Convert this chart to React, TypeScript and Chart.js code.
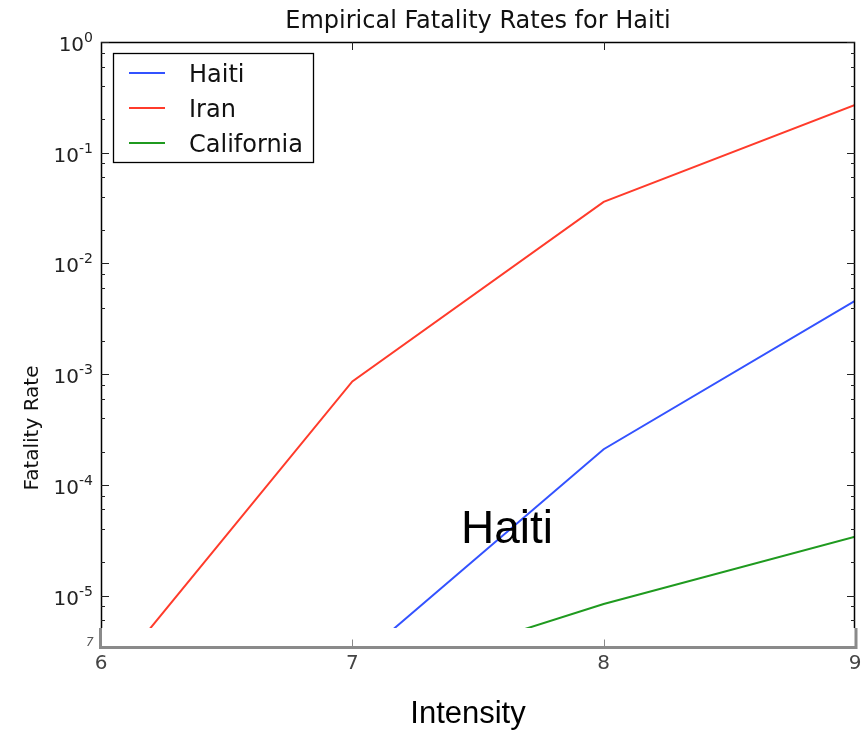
import React, { useEffect, useRef } from "react";
import { Chart, registerables } from "chart.js";

Chart.register(...registerables);

// Shaking intensity (MMI) and empirical fatality rate per region
const intensity = [6, 7, 8, 9];
const haitiRate = [null, 2.4e-6, 2.1e-4, 4.6e-3];
const iranRate = [1.45e-6, 8.6e-4, 0.036, 0.27];
const californiaRate = [null, 1.6e-6, 8.4e-6, 3.4e-5];

const seriesNames = ["Haiti", "Iran", "California"];
const seriesColors = ["#3352ff", "#ff3b2b", "#1f9a1f"];

const xTickLabels = ["6", "7", "8", "9"];
const yDecades = [0, -1, -2, -3, -4, -5];
const yMinorSubs = [2, 4, 6, 8];
const yRange = [5.1e-6, 1];

const titleText = "Empirical Fatality Rates for Haiti";
const yAxisTitle = "Fatality Rate";
const xAxisTitle = "Intensity";
const regionTag = "Haiti";
const strayLabel = "7";

const SANS = "'DejaVu Sans', sans-serif";
const ARIAL = "'Liberation Sans', Arial, sans-serif";

const toPoints = (vals: (number | null)[]) =>
  intensity
    .map((x, i) => ({ x, y: vals[i] }))
    .filter((p) => p.y !== null) as { x: number; y: number }[];

const decorations = {
  id: "decorations",
  afterDatasetsDraw(chart: any) {
    const { ctx, chartArea, scales } = chart;
    const { left, right, top, bottom } = chartArea;
    const xs = scales.x;
    const ys = scales.y;
    ctx.save();

    // frame: left, top, right spines
    ctx.strokeStyle = "#000";
    ctx.lineWidth = 1.5;
    ctx.beginPath();
    ctx.moveTo(left + 0.5, bottom);
    ctx.lineTo(left + 0.5, top + 0.5);
    ctx.lineTo(right - 0.5, top + 0.5);
    ctx.lineTo(right - 0.5, bottom);
    ctx.stroke();

    // y ticks (inward, both sides)
    ctx.lineWidth = 1;
    ctx.strokeStyle = "#222";
    for (let e = 0; e >= -6; e--) {
      const values = [1, ...yMinorSubs].map((m) => m * Math.pow(10, e));
      values.forEach((v, k) => {
        if (v < yRange[0] || v > yRange[1]) return;
        const py = Math.round(ys.getPixelForValue(v)) + 0.5;
        const len = k === 0 ? 8 : 4;
        ctx.beginPath();
        ctx.moveTo(left, py);
        ctx.lineTo(left + len, py);
        ctx.moveTo(right, py);
        ctx.lineTo(right - len, py);
        ctx.stroke();
      });
    }

    // top x ticks
    intensity.forEach((v) => {
      const px = Math.round(xs.getPixelForValue(v)) + 0.5;
      if (px <= left + 1 || px >= right - 1) return;
      ctx.beginPath();
      ctx.moveTo(px, top);
      ctx.lineTo(px, top + 8);
      ctx.stroke();
    });

    // grey lower axis
    const axisY = 647.5;
    ctx.strokeStyle = "#8a8a8a";
    ctx.lineWidth = 3;
    ctx.beginPath();
    ctx.moveTo(left - 0.5, bottom);
    ctx.lineTo(left - 0.5, axisY);
    ctx.lineTo(right + 1, axisY);
    ctx.lineTo(right + 1, bottom);
    ctx.stroke();
    ctx.lineWidth = 1;
    intensity.forEach((v) => {
      const px = Math.round(xs.getPixelForValue(v)) + 0.5;
      if (px <= left + 1 || px >= right - 1) return;
      ctx.beginPath();
      ctx.moveTo(px, axisY - 1);
      ctx.lineTo(px, axisY - 8);
      ctx.stroke();
    });

    // x tick labels
    ctx.fillStyle = "#444";
    ctx.font = `20px ${SANS}`;
    ctx.textAlign = "center";
    ctx.textBaseline = "alphabetic";
    intensity.forEach((v, i) => {
      ctx.fillText(xTickLabels[i], xs.getPixelForValue(v), 669);
    });

    // y tick labels 10^k
    ctx.fillStyle = "#222";
    yDecades.forEach((e) => {
      const py = ys.getPixelForValue(Math.pow(10, e));
      const expText = e < 0 ? "-" + String(-e) : String(e);
      ctx.font = `14px ${SANS}`;
      ctx.textAlign = "right";
      const expW = ctx.measureText(expText).width;
      ctx.fillText(expText, 93, py);
      ctx.font = `20px ${SANS}`;
      ctx.fillText("10", 93 - expW, py + 9);
    });

    // stray fragment below the y axis
    ctx.fillStyle = "#555";
    ctx.font = `italic 12px ${SANS}`;
    ctx.textAlign = "left";
    ctx.fillText(strayLabel, 86, 646);

    // title
    ctx.fillStyle = "#111";
    ctx.font = `24px ${SANS}`;
    ctx.textAlign = "center";
    ctx.fillText(titleText, (left + right) / 2, 28);

    // y axis title
    ctx.save();
    ctx.translate(38, 428);
    ctx.rotate(-Math.PI / 2);
    ctx.font = `20px ${SANS}`;
    ctx.textAlign = "center";
    ctx.fillText(yAxisTitle, 0, 0);
    ctx.restore();

    // x axis title
    ctx.fillStyle = "#000";
    ctx.font = `31px ${ARIAL}`;
    ctx.textAlign = "center";
    ctx.fillText(xAxisTitle, 468, 723);

    // region tag
    ctx.font = `46px ${ARIAL}`;
    ctx.textAlign = "left";
    ctx.fillText(regionTag, 461, 543);

    // legend box
    ctx.fillStyle = "#fff";
    ctx.fillRect(113.5, 53.5, 200, 109);
    ctx.strokeStyle = "#000";
    ctx.lineWidth = 1.3;
    ctx.strokeRect(113.5, 53.5, 200, 109);
    chart.data.datasets.forEach((ds: any, i: number) => {
      const ly = 73 + i * 35;
      ctx.strokeStyle = ds.borderColor;
      ctx.lineWidth = 2;
      ctx.beginPath();
      ctx.moveTo(129, ly);
      ctx.lineTo(165, ly);
      ctx.stroke();
      ctx.fillStyle = "#111";
      ctx.font = `24px ${SANS}`;
      ctx.textAlign = "left";
      ctx.fillText(ds.label, 189, ly + 9);
    });

    ctx.restore();
  },
};

export default function App() {
  const ref = useRef<HTMLCanvasElement>(null);

  useEffect(() => {
    if (!ref.current) return;
    const rates = [haitiRate, iranRate, californiaRate];
    const chart = new Chart(ref.current, {
      type: "line",
      data: {
        datasets: rates.map((vals, i) => ({
          label: seriesNames[i],
          data: toPoints(vals),
          borderColor: seriesColors[i],
          backgroundColor: seriesColors[i],
          borderWidth: 2,
          pointRadius: 0,
          tension: 0,
          clip: 0,
        })),
      },
      options: {
        responsive: false,
        animation: false,
        layout: { padding: { left: 101, right: 8, top: 42, bottom: 103 } },
        plugins: {
          legend: { display: false },
          title: { display: false },
          tooltip: { enabled: false },
        },
        scales: {
          x: { type: "linear", min: 6, max: 9, display: false },
          y: { type: "logarithmic", min: yRange[0], max: yRange[1], display: false },
        },
      },
      plugins: [decorations],
    });
    return () => chart.destroy();
  }, []);

  return (
    <div style={{ position: "absolute", left: 0, top: 0, width: 863, height: 731, background: "#fff" }}>
      <canvas ref={ref} width={863} height={731} />
    </div>
  );
}
